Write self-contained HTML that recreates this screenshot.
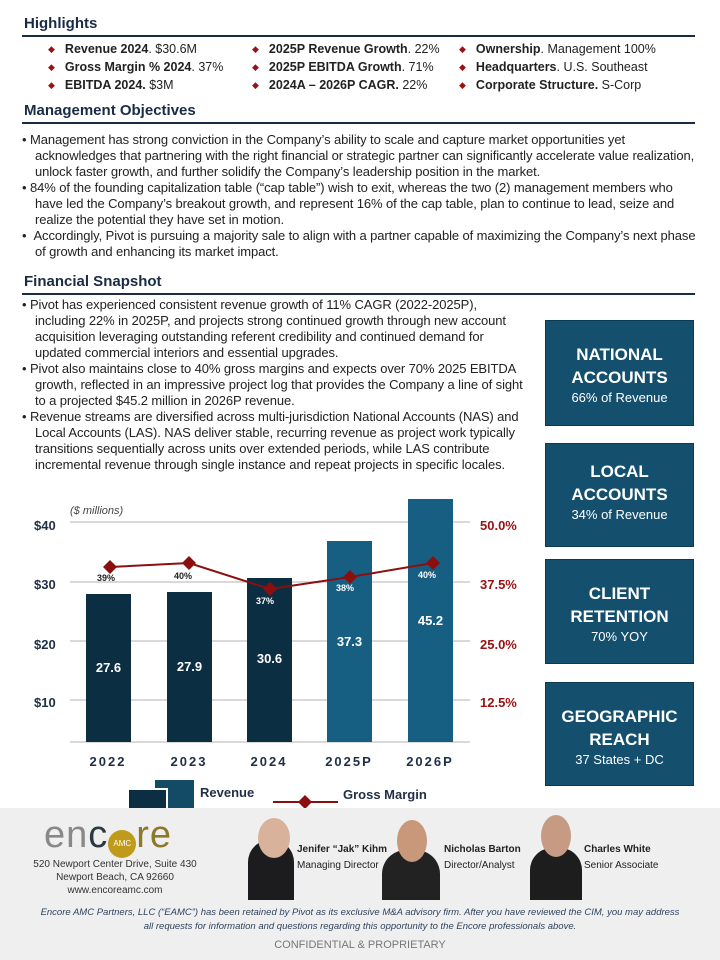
<!DOCTYPE html><html><head><meta charset="utf-8"><style>
*{margin:0;padding:0;box-sizing:border-box}
body{width:720px;height:960px;position:relative;background:#fff;font-family:"Liberation Sans",sans-serif;color:#222;overflow:hidden}
.a{position:absolute}
.h{font-weight:bold;font-size:15px;color:#1a2b45;left:24px}
.rule{left:22px;width:673px;height:2px;background:#1a2b45}
.hl{font-size:12.5px;color:#222;white-space:nowrap}
.hl b{color:#222}
.d{color:#9b1010;font-size:9px;margin-right:10px;position:relative;top:-1px}
.p{font-size:13px;line-height:16px;color:#222;letter-spacing:-0.1px}
.box{left:545px;width:149px;background:#14506e;color:#fff;text-align:center;border:1px solid #0b3a52}
.box .t{font-weight:bold;font-size:17px;line-height:23px}
.box .s{font-size:13px;line-height:18px}
.gl{left:70px;width:400px;height:2px;background:#d9d9d9}
.yl{font-weight:bold;font-size:13px;color:#1f2f45;left:34px}
.yr{font-weight:bold;font-size:13px;color:#9b1010;left:480px}
.bar{width:45px}
.v{color:#fff;font-weight:bold;font-size:13px;width:45px;text-align:center}
.pc{font-weight:bold;font-size:9px;width:30px;text-align:center}
.yr2{font-weight:bold;font-size:13px;letter-spacing:2px;width:80px;text-align:center;color:#1f2f45}
</style></head><body>
<div class="a h" style="top:15px">Highlights</div>
<div class="a rule" style="top:35px"></div>
<div class="a hl" style="left:48px;top:42px"><span class="d">◆</span><b>Revenue 2024</b>. $30.6M</div>
<div class="a hl" style="left:48px;top:60px"><span class="d">◆</span><b>Gross Margin % 2024</b>. 37%</div>
<div class="a hl" style="left:48px;top:78px"><span class="d">◆</span><b>EBITDA 2024.</b> $3M</div>
<div class="a hl" style="left:252px;top:42px"><span class="d">◆</span><b>2025P Revenue Growth</b>. 22%</div>
<div class="a hl" style="left:252px;top:60px"><span class="d">◆</span><b>2025P EBITDA Growth</b>. 71%</div>
<div class="a hl" style="left:252px;top:78px"><span class="d">◆</span><b>2024A – 2026P CAGR.</b> 22%</div>
<div class="a hl" style="left:459px;top:42px"><span class="d">◆</span><b>Ownership</b>. Management 100%</div>
<div class="a hl" style="left:459px;top:60px"><span class="d">◆</span><b>Headquarters</b>. U.S. Southeast</div>
<div class="a hl" style="left:459px;top:78px"><span class="d">◆</span><b>Corporate Structure.</b> S-Corp</div>

<div class="a h" style="top:102px">Management Objectives</div>
<div class="a rule" style="top:122px"></div>
<div class="a p" style="left:22px;top:132px;width:676px">
<div style="padding-left:13px;text-indent:-13px">• Management has strong conviction in the Company’s ability to scale and capture market opportunities yet acknowledges that partnering with the right financial or strategic partner can significantly accelerate value realization, unlock faster growth, and further solidify the Company’s leadership position in the market.</div>
<div style="padding-left:13px;text-indent:-13px">• 84% of the founding capitalization table (“cap table”) wish to exit, whereas the two (2) management members who have led the Company’s breakout growth, and represent 16% of the cap table, plan to continue to lead, seize and realize the potential they have set in motion.</div>
<div style="padding-left:13px;text-indent:-13px">• &nbsp;Accordingly, Pivot is pursuing a majority sale to align with a partner capable of maximizing the Company’s next phase of growth and enhancing its market impact.</div>
</div>

<div class="a h" style="top:273px">Financial Snapshot</div>
<div class="a rule" style="top:293px"></div>
<div class="a p" style="left:22px;top:297px;width:505px">
<div style="padding-left:13px;text-indent:-13px">• Pivot has experienced consistent revenue growth of 11% CAGR (2022-2025P), including 22% in 2025P, and projects strong continued growth through new account acquisition leveraging outstanding referent credibility and continued demand for updated commercial interiors and essential upgrades.</div>
<div style="padding-left:13px;text-indent:-13px">• Pivot also maintains close to 40% gross margins and expects over 70% 2025 EBITDA growth, reflected in an impressive project log that provides the Company a line of sight to a projected $45.2 million in 2026P revenue.</div>
<div style="padding-left:13px;text-indent:-13px">• Revenue streams are diversified across multi-jurisdiction National Accounts (NAS) and Local Accounts (LAS). NAS deliver stable, recurring revenue as project work typically transitions sequentially across units over extended periods, while LAS contribute incremental revenue through single instance and repeat projects in specific locales.</div>
</div>

<div class="a box" style="top:320px;height:106px;padding-top:22px"><div class="t">NATIONAL<br>ACCOUNTS</div><div class="s">66% of Revenue</div></div>
<div class="a box" style="top:443px;height:104px;padding-top:16px"><div class="t">LOCAL<br>ACCOUNTS</div><div class="s">34% of Revenue</div></div>
<div class="a box" style="top:559px;height:105px;padding-top:22px"><div class="t">CLIENT<br>RETENTION</div><div class="s">70% YOY</div></div>
<div class="a box" style="top:682px;height:104px;padding-top:22px"><div class="t">GEOGRAPHIC<br>REACH</div><div class="s">37 States + DC</div></div>

<!-- chart -->
<div class="a" style="left:70px;top:505px;font-size:11px;font-style:italic;color:#444">($ millions)</div>
<div class="a gl" style="top:521px"></div>
<div class="a gl" style="top:581px"></div>
<div class="a gl" style="top:640px"></div>
<div class="a gl" style="top:699px"></div>
<div class="a gl" style="top:741px"></div>
<div class="a yl" style="top:518px">$40</div>
<div class="a yl" style="top:577px">$30</div>
<div class="a yl" style="top:637px">$20</div>
<div class="a yl" style="top:695px">$10</div>
<div class="a yr" style="top:518px">50.0%</div>
<div class="a yr" style="top:577px">37.5%</div>
<div class="a yr" style="top:637px">25.0%</div>
<div class="a yr" style="top:695px">12.5%</div>
<div class="a bar" style="left:86px;top:594px;height:148px;background:#0c2e42"></div>
<div class="a bar" style="left:167px;top:592px;height:150px;background:#0c2e42"></div>
<div class="a bar" style="left:247px;top:578px;height:164px;background:#0c2e42"></div>
<div class="a bar" style="left:327px;top:541px;height:201px;background:#175f82"></div>
<div class="a bar" style="left:408px;top:499px;height:243px;background:#175f82"></div>
<div class="a v" style="left:86px;top:660px">27.6</div>
<div class="a v" style="left:167px;top:659px">27.9</div>
<div class="a v" style="left:247px;top:651px">30.6</div>
<div class="a v" style="left:327px;top:634px">37.3</div>
<div class="a v" style="left:408px;top:613px">45.2</div>
<svg class="a" style="left:0;top:0" width="720" height="960">
<polyline points="110,567 189,563 270,589 350,577 433,563" fill="none" stroke="#8b0f0f" stroke-width="2"/>
<g fill="#8b0f0f">
<path d="M110,560 L117,567 L110,574 L103,567Z"/><path d="M189,556 L196,563 L189,570 L182,563Z"/>
<path d="M270,582 L277,589 L270,596 L263,589Z"/><path d="M350,570 L357,577 L350,584 L343,577Z"/>
<path d="M433,556 L440,563 L433,570 L426,563Z"/>
<line x1="273" y1="802" x2="338" y2="802" stroke="#8b0f0f" stroke-width="2"/>
<path d="M305,795 L312,802 L305,809 L298,802Z"/>
</g></svg>
<div class="a pc" style="left:91px;top:573px;color:#222">39%</div>
<div class="a pc" style="left:168px;top:571px;color:#222">40%</div>
<div class="a pc" style="left:250px;top:596px;color:#fff">37%</div>
<div class="a pc" style="left:330px;top:583px;color:#fff">38%</div>
<div class="a pc" style="left:412px;top:570px;color:#fff">40%</div>
<div class="a yr2" style="left:68px;top:754px">2022</div>
<div class="a yr2" style="left:149px;top:754px">2023</div>
<div class="a yr2" style="left:229px;top:754px">2024</div>
<div class="a yr2" style="left:309px;top:754px">2025P</div>
<div class="a yr2" style="left:390px;top:754px">2026P</div>
<div class="a" style="left:155px;top:780px;width:39px;height:28px;background:#134a66"></div>
<div class="a" style="left:129px;top:788px;width:39px;height:21px;background:#0c2e42;border-right:2px solid #fff;border-top:2px solid #fff"></div>
<div class="a" style="left:200px;top:785px;font-weight:bold;font-size:13px;color:#1f2f45">Revenue</div>
<div class="a" style="left:343px;top:787px;font-weight:bold;font-size:13px;color:#1f2f45">Gross Margin</div>

<!-- footer -->
<div class="a" style="left:0;top:808px;width:720px;height:152px;background:#efefef"></div>
<div class="a" style="left:44px;top:815px;font-size:38px;color:#888;letter-spacing:1px;line-height:40px;white-space:nowrap">en<span style="color:#2b3a40">c</span><span style="display:inline-block;width:28px;height:28px;border-radius:50%;background:#c09a1a;color:#fff;font-size:8px;text-align:center;line-height:28px;vertical-align:1px;letter-spacing:0">AMC</span><span style="color:#8c7a2a">re</span></div>
<div class="a" style="left:30px;top:858px;width:170px;text-align:center;font-size:10px;line-height:13px;color:#333">520 Newport Center Drive, Suite 430<br>Newport Beach, CA 92660<br>www.encoreamc.com</div>
<div class="a" style="left:248px;top:840px;width:46px;height:60px;background:#1c1c1e;border-radius:22px 22px 0 0"></div>
<div class="a" style="left:258px;top:818px;width:32px;height:40px;background:#d8b29b;border-radius:50%"></div>
<div class="a" style="left:382px;top:850px;width:58px;height:50px;background:#222;border-radius:24px 24px 0 0"></div>
<div class="a" style="left:397px;top:820px;width:30px;height:42px;background:#c9977a;border-radius:50%"></div>
<div class="a" style="left:530px;top:848px;width:52px;height:52px;background:#1d1d1d;border-radius:22px 22px 0 0"></div>
<div class="a" style="left:541px;top:815px;width:30px;height:42px;background:#c79b83;border-radius:50%"></div>
<div class="a" style="left:297px;top:842px;font-size:10px;line-height:16px;color:#222"><b>Jenifer “Jak” Kihm</b><br>Managing Director</div>
<div class="a" style="left:444px;top:842px;font-size:10px;line-height:16px;color:#222"><b>Nicholas Barton</b><br>Director/Analyst</div>
<div class="a" style="left:584px;top:842px;font-size:10px;line-height:16px;color:#222"><b>Charles White</b><br>Senior Associate</div>
<div class="a" style="left:40px;top:906px;width:640px;text-align:center;font-size:9.5px;line-height:14px;font-style:italic;color:#2f4460">Encore AMC Partners, LLC (“EAMC”) has been retained by Pivot as its exclusive M&amp;A advisory firm. After you have reviewed the CIM, you may address all requests for information and questions regarding this opportunity to the Encore professionals above.</div>
<div class="a" style="left:0;top:939px;width:720px;text-align:center;font-size:11px;color:#777">CONFIDENTIAL &amp; PROPRIETARY</div>
</body></html>
